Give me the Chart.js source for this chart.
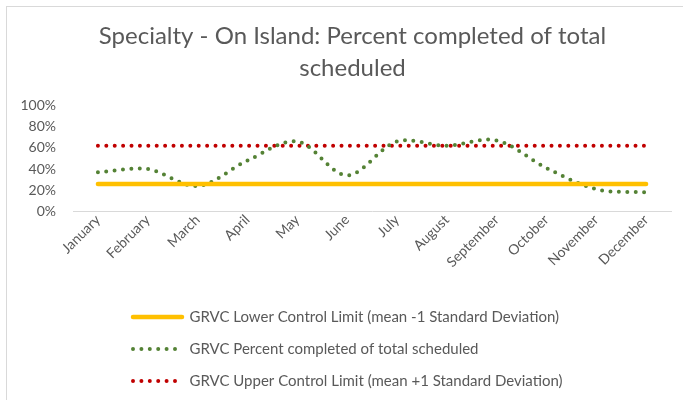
<!DOCTYPE html>
<html>
<head>
<meta charset="utf-8">
<script src="https://cdn.jsdelivr.net/npm/chart.js@4/dist/chart.umd.min.js"></script>
<style>
  body { margin: 0; background: #fff; overflow: hidden; }
  #wrap { position: absolute; left: 0; top: 0; width: 683px; height: 400px; }
  #frame { position: absolute; left: 6px; top: 6px; width: 720px; height: 440px; border: 1px solid #d9d9d9; pointer-events: none; }
</style>
</head>
<body>
<div id="wrap"><canvas id="myChart"></canvas></div>
<div id="frame"></div>
<script>
const months = ["January","February","March","April","May","June","July","August","September","October","November","December"];
const percentCompleted = [37, 40, 24, 48, 66, 34, 66, 62, 67, 41, 21, 18];
const lowerLimit = [26, 26, 26, 26, 26, 26, 26, 26, 26, 26, 26, 26];
const upperLimit = [62, 62, 62, 62, 62, 62, 62, 62, 62, 62, 62, 62];
const yTicks = [0, 20, 40, 60, 80, 100];

const textColor = "#595959";
const fontName = "Lato";

// the original centres its title over the frame and starts legend rows under the plot
const blockOffset = {
    id: "blockOffset",
    beforeDraw(chart) {
        if (chart.titleBlock) {
            chart.titleBlock.left = 22;
            chart.titleBlock.right = 683;
        }
        if (chart.legend) {
            chart.legend.left = 116;
        }
    }
};

document.addEventListener('DOMContentLoaded', function () {
    new Chart("myChart", {
        type: "line",
        data: {
            labels: months,
            datasets: [{
                label: "GRVC Lower Control Limit (mean -1 Standard Deviation)",
                data: lowerLimit,
                borderColor: "#FFC000",
                backgroundColor: "#FFC000",
                borderWidth: 4.5,
                borderCapStyle: "round",
                pointStyle: "line",
                pointRadius: 0,
                pointHoverRadius: 0,
                fill: false
            },{
                label: "GRVC Percent completed of total scheduled",
                data: percentCompleted,
                borderColor: "#548235",
                backgroundColor: "#548235",
                borderWidth: 4,
                borderDash: [0, 8.4],
                borderCapStyle: "round",
                tension: 0.33,
                pointStyle: "line",
                pointRadius: 0,
                pointHoverRadius: 0,
                fill: false
            },{
                label: "GRVC Upper Control Limit (mean +1 Standard Deviation)",
                data: upperLimit,
                borderColor: "#C00000",
                backgroundColor: "#C00000",
                borderWidth: 4,
                borderDash: [0, 8.4],
                borderCapStyle: "round",
                pointStyle: "line",
                pointRadius: 0,
                pointHoverRadius: 0,
                fill: false
            }]
        },
        options: {
            responsive: true,
            maintainAspectRatio: false,
            animation: false,
            layout: { padding: { top: 6, left: 0, right: 12, bottom: 1.5 } },
            plugins: {
                title: {
                    display: true,
                    text: ["Specialty - On Island: Percent completed of total", "scheduled"],
                    color: textColor,
                    font: { family: fontName, size: 24, weight: "normal", lineHeight: 1.3 },
                    padding: { top: 15, bottom: 22 }
                },
                legend: {
                    position: "bottom",
                    align: "start",
                    labels: {
                        usePointStyle: true,
                        pointStyleWidth: 49,
                        color: textColor,
                        font: { family: fontName, size: 15 },
                        padding: 17,
                        generateLabels: function (chart) {
                            const items = Chart.defaults.plugins.legend.labels.generateLabels(chart);
                            items.forEach(item => {
                                const ds = chart.data.datasets[item.datasetIndex];
                                item.lineDash = ds.borderDash || [];
                                item.lineCap = ds.borderCapStyle;
                                item.lineWidth = ds.borderWidth;
                                item.strokeStyle = ds.borderColor;
                            });
                            return items;
                        }
                    }
                },
                tooltip: { enabled: false }
            },
            scales: {
                x: {
                    offset: true,
                    grid: { display: false, drawTicks: false },
                    border: { display: true, color: "#d9d9d9", width: 1 },
                    ticks: {
                        color: textColor,
                        font: { family: fontName, size: 14 },
                        minRotation: 45,
                        maxRotation: 45,
                        padding: 0
                    },
                    afterFit: function (scale) { scale.height = 81; }
                },
                y: {
                    min: 0,
                    max: 100,
                    grid: { display: false, drawTicks: false },
                    border: { display: false },
                    afterBuildTicks: function (scale) {
                        scale.ticks = yTicks.map(v => ({ value: v }));
                    },
                    ticks: {
                        color: textColor,
                        font: { family: fontName, size: 14 },
                        padding: 17,
                        callback: function (value) { return value + "%"; }
                    },
                    afterFit: function (scale) { scale.width = 73; }
                }
            }
        },
        plugins: [blockOffset]
    });
});
</script>
</body>
</html>
